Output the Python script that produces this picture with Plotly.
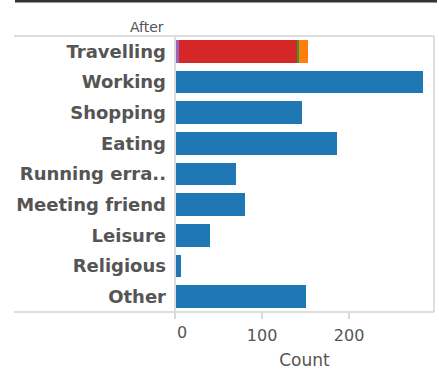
import plotly.graph_objects as go

categories = ["Travelling", "Working", "Shopping", "Eating", "Running erra..",
              "Meeting friend", "Leisure", "Religious", "Other"]
activity_counts = [None, 285, 146, 186, 70, 80, 40, 7, 150]
travel_segments = {
    "Mode A": [5],
    "Mode B": [136],
    "Mode C": [1],
    "Mode D": [11],
}
segment_colors = ["#9467bd", "#d62728", "#2ca02c", "#ff7f0e"]
x_ticks = [0, 100, 200]
x_tick_labels = ["0", "100", "200"]

fig = go.Figure()
for (name, vals), col in zip(travel_segments.items(), segment_colors):
    fig.add_trace(go.Bar(y=["Travelling"], x=vals, orientation="h", name=name,
                         marker=dict(color=col, line=dict(width=0))))
fig.add_trace(go.Bar(y=categories, x=activity_counts, orientation="h", name="Count",
                     marker=dict(color="#1f77b4", line=dict(width=0))))

W, H = 439, 373
ml, mr, mt, mb = 14, 5, 36, 61
pw = W - ml - mr
ph = H - mt - mb
x0 = (175 - ml) / pw

fig.update_layout(
    width=W, height=H, barmode="stack", bargap=0.26, showlegend=False,
    margin=dict(l=ml, r=mr, t=mt, b=mb, pad=0),
    plot_bgcolor="white", paper_bgcolor="white",
    font=dict(family="DejaVu Sans", color="#555555"),
    xaxis=dict(domain=[x0, 1], range=[0, 297.5], tickvals=x_ticks,
               ticktext=[""] + x_tick_labels[1:], showgrid=False,
               zeroline=False, showline=False, ticks="outside", ticklen=6,
               tickcolor="#d9d9d9", tickwidth=1.5, ticklabelstandoff=3,
               tickfont=dict(size=16, color="#555555"),
               title=dict(text="Count", font=dict(size=17, color="#555555"), standoff=9)),
    yaxis=dict(categoryorder="array", categoryarray=categories, autorange="reversed",
               showgrid=False, zeroline=False, showline=False, ticks="",
               tickfont=dict(size=18, color="#555555", family="DejaVu Sans", weight="bold"),
               ticklabelstandoff=8),
)

# first tick label is nudged right of its tick, as in the reference
fig.add_annotation(text=x_tick_labels[0], x=x_ticks[0], xref="x", yref="paper", y=0,
                   yanchor="top", xanchor="center", xshift=7, yshift=-9, showarrow=False,
                   font=dict(size=16, color="#555555"))

line_col = "#dddddd"
fig.add_shape(type="line", xref="paper", yref="paper", x0=0, x1=1, y0=1, y1=1,
              line=dict(color=line_col, width=2))
fig.add_shape(type="line", xref="paper", yref="paper", x0=0, x1=1, y0=0, y1=0,
              line=dict(color=line_col, width=2))
fig.add_shape(type="line", xref="paper", yref="paper", x0=1, x1=1, y0=0, y1=1,
              line=dict(color=line_col, width=2))
fig.add_shape(type="line", xref="paper", yref="paper", x0=x0, x1=x0, y0=0, y1=1,
              line=dict(color=line_col, width=2))
fig.add_shape(type="rect", xref="paper", yref="paper", x0=(15 - ml) / pw, x1=(437 - ml) / pw,
              y0=1 + (mt - 2.5) / ph, y1=1 + mt / ph,
              line=dict(width=0), fillcolor="#333333")
fig.add_annotation(text="After", xref="paper", yref="paper", x=(166 - ml) / pw, y=1,
                   xanchor="right", yanchor="bottom", yshift=-1, showarrow=False,
                   font=dict(size=14, color="#555555"))

fig.write_html("out.html", config={"displayModeBar": False},
               post_script="document.body.style.margin='0px';")
